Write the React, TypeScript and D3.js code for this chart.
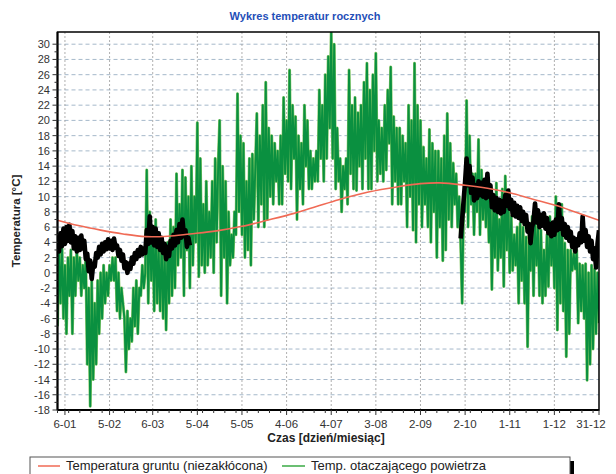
import React from 'react'
import * as d3 from 'd3'

// czas: dzien roku (1..365)
const xTickDays = [6, 36, 65, 95, 125, 155, 185, 215, 245, 275, 305, 335, 365]
const xTickLabels = ['6-01', '5-02', '6-03', '5-04', '5-05', '4-06', '4-07', '3-08', '2-09', '2-10', '1-11', '1-12', '31-12']
const yTicks = [-18, -16, -14, -12, -10, -8, -6, -4, -2, 0, 2, 4, 6, 8, 10, 12, 14, 16, 18, 20, 22, 24, 26, 28, 30]

// temperatura gruntu (niezaklocona)
const groundDays = [1, 15, 30, 45, 60, 75, 90, 108, 125, 142, 160, 175, 190, 210, 230, 245, 258, 275, 290, 305, 320, 337, 350, 365]
const groundTemp = [6.9, 6.2, 5.6, 5.1, 4.75, 4.8, 5.1, 5.5, 6.1, 6.9, 7.8, 8.7, 9.6, 10.6, 11.3, 11.7, 11.8, 11.5, 11.1, 10.5, 9.7, 8.8, 7.9, 6.9]

// temp. otaczajacego powietrza, wartosci dzienne (na zmiane min / max)
const airTemp = [
  -7, 3, -4, 4, -6, 1, -8, 2, -3, 3,
  -8, 2, -3, 3, -1, 2, -3, 1, -2, 2,
  -12, -2, -17.5, -1, -14, -4, -12, -1, -8, 0,
  -6, 1, -4, 0, -3, 1, -1, 2, -1, 2,
  -5, 0, -6, -2, -4, -6, -13, -5, -10, -6,
  -9, -2, -7, -1, -8, -2, -3, 1, -2, 0,
  13.5, -4, 8, -1, 6, -5, 7, -4, 3, -5,
  4, -6, 3, -7.5, 4, -4, 7, -3, 6, -2,
  13, 1, 9, 2, 13.5, -3, 12.5, 3, 10, -2,
  14, 1, 10, 4, 19.7, -0.5, 15, 1, 9, 0,
  12, 1, 8, 2, 12, 0, 15, 4, 14, 20,
  -3, 14, 2, 12, -4, 8, 1, 5, 2, 8,
  5, 23.5, 8, 18, 5, 17, 2, 12, 3, 15,
  1, 15.6, 7, 14, 20.9, 6, 18, 9, 22, 6,
  25, 7, 19, 10, 18, 9, 17, 12, 16, 9,
  18, 9, 23, 13, 20, 12, 26.6, 11, 22, 15,
  20.5, 7, 18, 11, 17, 9, 22, 14, 20, 11,
  16, 11, 15, 12, 16, 12, 24, 15, 22, 12,
  26, 15, 28.4, 19, 31.6, 15, 30, 11, 19, 12,
  15, 8, 14, 11, 15, 9, 26.6, 13, 22, 11,
  23, 10.8, 21, 14, 22, 11, 25, 15, 27.5, 11,
  24, 11, 26, 16, 28.8, 12, 20, 13, 19, 12,
  22, 13.5, 24, 17, 27, 9, 20.5, 12, 19, 9,
  19, 9, 18, 12, 17, 6, 22, 10, 20, 5.6,
  27.5, 4, 22, 9, 20, 6, 16.5, 9, 15, 6,
  18.8, 4, 17, 8, 16, 2, 16, 6, 15, 1.6,
  18, 3, 20.9, 7, 17, 6, 14.4, 9, 13, 6,
  10, 4, -4, 9, 8, 22.6, 6, 18, 9, 13,
  5, 13, 8, 17.5, 5, 13.5, 7, 12, 6, 13,
  4, 10, -2.2, 9, 2, 11.8, 0.3, 7, 2, 11,
  -1.8, 12.7, 3, 10, 0, 7.4, 0.3, 5, 1, 6,
  -4, 6.5, -1, 6, -4, 4.7, -9.7, 5, 0.3, 7.4,
  -3, 7.4, 1, 6, -3, 5.6, -4, 3, -3, 5,
  -1.8, 7.4, 1, 6, -2, 10, -7.5, 8, -4, 9,
  -5, 3.9, -11, 3, -8, 3, 0.3, 2.5, 0.5, 3,
  -6.6, 1.2, -5, 1, -6, 1.2, -14.1, 0, -12, 1,
  -10, 0.5, -8, 0, -6.6,
]

// temperatura czynnika: styczen-marzec (dni 1..90) i pazdziernik-grudzien (dni 272..365)
const fluidStartA = 1
const fluidA = [
  4.5, 2.8, 5.2, 3.5, 5.8, 3.8, 6.0, 4.2, 6.3, 4.0,
  5.5, 3.2, 4.8, 2.8, 4.6, 3.0, 4.9, 3.2, 4.2, 1.8,
  2.5, 0.2, 1.6, -0.8, 1.2, 0.8, 2.6, 2.0, 3.4, 2.4,
  3.8, 2.8, 4.0, 3.1, 4.4, 3.2, 4.2, 3.0, 4.5, 3.3,
  3.6, 2.2, 3.0, 1.6, 2.4, 0.6, 1.4, 0.0, 1.2, 0.5,
  2.0, 1.2, 2.6, 1.8, 3.0, 2.2, 3.4, 2.4, 3.2, 2.6,
  5.6, 3.8, 7.4, 4.0, 6.0, 3.6, 5.8, 3.4, 5.2, 3.0,
  4.6, 2.6, 3.8, 1.8, 3.4, 2.2, 4.2, 3.2, 5.0, 3.6,
  5.6, 4.0, 6.4, 4.6, 7.0, 4.8, 5.6, 3.4, 4.6, 3.6,
]
const fluidStartB = 272
const fluidB = [
  4.5, 7.0, 9.5, 12.0, 15.0, 11.5, 14.0, 10.5, 12.5,
  9.5, 11.5, 9.8, 12.0, 10.2, 11.8, 10.0, 12.2, 9.8, 13.0,
  10.0, 11.5, 8.6, 10.2, 8.2, 9.8, 8.0, 9.6, 7.8, 9.4,
  8.0, 10.2, 8.8, 10.8, 8.4, 9.6, 7.6, 9.2, 7.4, 8.8,
  7.2, 8.6, 6.8, 8.0, 6.4, 7.6, 5.4, 6.4, 3.9, 6.0,
  6.8, 9.1, 6.6, 8.2, 6.0, 7.6, 6.2, 7.8, 5.8, 7.2,
  5.2, 6.4, 4.8, 6.6, 5.0, 7.0, 5.6, 9.0, 5.8, 7.2,
  5.0, 6.4, 4.6, 6.0, 4.2, 5.4, 3.4, 4.6, 2.8, 4.4,
  3.6, 5.2, 4.0, 7.4, 4.2, 5.6, 3.4, 4.8, 2.8, 4.2,
  1.8, 3.2, 0.7, 3.8, 5.6,
]

const W = 616
const H = 474
const left = 57.5
const right = 599
const top = 32
const bottom = 410
const font = 'Liberation Sans, Arial, sans-serif'

export default function App() {
  const x = d3.scaleLinear().domain([1, 365]).range([left, right])
  const y = d3.scaleLinear().domain([-18, 31.6]).range([bottom, top])

  const airPath = d3.line<number>().x((d, i) => x(i + 1)).y(d => y(d))(airTemp) || ''
  const fluidPathA = d3.line<number>().x((d, i) => x(fluidStartA + i)).y(d => y(d))(fluidA) || ''
  const fluidPathB = d3.line<number>().x((d, i) => x(fluidStartB + i)).y(d => y(d))(fluidB) || ''
  const groundPath = d3.line<number>()
    .x((d, i) => x(groundDays[i]))
    .y(d => y(d))
    .curve(d3.curveCatmullRom)(groundTemp) || ''

  const minorX = d3.range(1, 365, 7.5)
  const minorY = d3.range(-17, 31, 2)

  return (
    <svg width={W} height={H} style={{ position: 'absolute', left: 0, top: 0, background: '#fff' }} fontFamily={font}>
      <defs>
        <clipPath id="plot">
          <rect x={left} y={top} width={right - left} height={bottom - top} />
        </clipPath>
      </defs>

      <text x={305} y={20} textAnchor="middle" fontSize={11} fontWeight="bold" fill="#1f4fb8">Wykres temperatur rocznych</text>

      {/* siatka */}
      {yTicks.filter(t => t > -18).map(t => (
        <line key={'gy' + t} x1={left} x2={right} y1={y(t)} y2={y(t)} stroke="#8ea6bd" strokeDasharray="4,3" strokeWidth={0.8} />
      ))}
      {xTickDays.slice(0, -1).map(d => (
        <line key={'gx' + d} x1={x(d)} x2={x(d)} y1={top} y2={bottom} stroke="#9a9a9a" strokeDasharray="2,2" strokeWidth={0.8} />
      ))}

      <g clipPath="url(#plot)">
        <path d={airPath} fill="none" stroke="#86c865" strokeWidth={3} strokeLinejoin="round" />
        <path d={airPath} fill="none" stroke="#0a9040" strokeWidth={1.9} strokeLinejoin="round" />
        <path d={fluidPathA} fill="none" stroke="#000" strokeWidth={4.6} strokeLinejoin="round" />
        <path d={fluidPathB} fill="none" stroke="#000" strokeWidth={4.6} strokeLinejoin="round" />
        <path d={groundPath} fill="none" stroke="#f06a55" strokeWidth={1.6} />
      </g>

      {/* ramka */}
      <rect x={left} y={top} width={right - left} height={bottom - top} fill="none" stroke="#000" strokeWidth={1.5} />
      <line x1={left} x2={right} y1={bottom} y2={bottom} stroke="#000" strokeWidth={2} />
      <line x1={left} x2={left} y1={top} y2={bottom} stroke="#000" strokeWidth={2} />

      {/* os Y */}
      {yTicks.map(t => (
        <g key={'ty' + t}>
          <line x1={left - 5} x2={left} y1={y(t)} y2={y(t)} stroke="#333" />
          <text x={50} y={y(t) + 4} textAnchor="end" fontSize={11} fill="#333">{t}</text>
        </g>
      ))}
      {minorY.map(t => (
        <line key={'my' + t} x1={left - 3} x2={left} y1={y(t)} y2={y(t)} stroke="#333" />
      ))}

      {/* os X */}
      {xTickDays.map((d, i) => (
        <g key={'tx' + d}>
          <line x1={x(d)} x2={x(d)} y1={bottom} y2={bottom + 5} stroke="#333" />
          <text x={i === xTickDays.length - 1 ? x(d) - 8 : x(d)} y={428} textAnchor="middle" fontSize={11.5} fill="#333">{xTickLabels[i]}</text>
        </g>
      ))}
      {minorX.map(d => (
        <line key={'mx' + d} x1={x(d)} x2={x(d)} y1={bottom} y2={bottom + 3} stroke="#333" />
      ))}

      <text x={326} y={442} textAnchor="middle" fontSize={12} fontWeight="bold" fill="#222">Czas [dzień/miesiąc]</text>
      <text transform={`translate(20,${(top + bottom) / 2}) rotate(-90)`} textAnchor="middle" fontSize={11.5} fontWeight="bold" fill="#222">Temperatura [°C]</text>

      {/* legenda */}
      <rect x={34} y={461} width={540} height={30} fill="#000" />
      <rect x={30} y={457} width={540} height={30} fill="#fff" stroke="#555" strokeWidth={1} />
      <line x1={38} x2={60} y1={466} y2={466} stroke="#f06a55" strokeWidth={1.5} />
      <text x={66} y={470} fontSize={13} fill="#222">Temperatura gruntu (niezakłócona)</text>
      <line x1={282} x2={305} y1={466} y2={466} stroke="#3aaa45" strokeWidth={1.5} />
      <text x={311} y={470} fontSize={13} fill="#222">Temp. otaczającego powietrza</text>
    </svg>
  )
}
